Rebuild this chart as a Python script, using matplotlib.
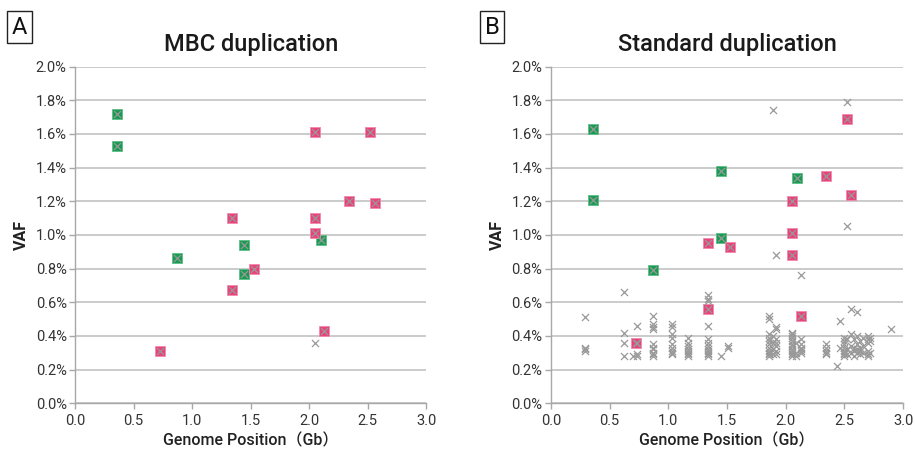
import matplotlib.pyplot as plt
from matplotlib.ticker import PercentFormatter, MultipleLocator

plt.rcParams['font.family'] = ['Roboto', 'Noto Sans CJK JP', 'DejaVu Sans']

# colours
green = '#1a9a52'
pink = '#e8437a'
cross_gray = '#999999'
grid_gray = '#bdbdbd'
text_dark = '#333333'

# ---- panel A: MBC duplication (VAF in %) ----
mbc_green_x = [0.355, 0.355, 0.87, 1.44, 1.44, 2.10]
mbc_green_y = [1.72, 1.53, 0.86, 0.94, 0.77, 0.97]
mbc_pink_x = [2.05, 2.52, 2.34, 2.56, 1.34, 2.05, 2.05, 1.53, 1.34, 2.13, 0.725]
mbc_pink_y = [1.61, 1.61, 1.20, 1.19, 1.10, 1.10, 1.01, 0.80, 0.67, 0.43, 0.31]
mbc_gray_x = [2.05]
mbc_gray_y = [0.36]

# ---- panel B: standard duplication ----
std_green_x = [0.357, 0.357, 1.446, 2.10, 1.446, 0.868]
std_green_y = [1.63, 1.21, 1.38, 1.34, 0.98, 0.79]
std_pink_x = [2.52, 2.34, 2.56, 2.05, 2.05, 1.34, 1.53, 2.05, 1.34, 2.13, 0.725]
std_pink_y = [1.69, 1.35, 1.24, 1.20, 1.01, 0.95, 0.93, 0.88, 0.56, 0.52, 0.36]

std_gray_x = ([0.29] * 4 + [0.62] * 4 + [0.70] + [0.73] * 4 + [0.87] * 10 +
              [1.03] * 9 + [1.17] * 8 + [1.34] * 12 + [1.45] + [1.51] * 2 +
              [1.86] * 11 + [1.89] * 5 + [1.92] * 8 + [2.05] * 12 + [2.09] * 3 +
              [2.13] * 7 + [2.34] * 5 + [2.44] + [2.46] * 2 + [2.50] * 8 +
              [2.52] * 5 + [2.56] * 4 + [2.58] * 4 + [2.61] * 5 + [2.63] * 4 +
              [2.66] * 3 + [2.70] * 6 + [2.72] * 3 + [2.90])
std_gray_y = ([0.515, 0.33, 0.32, 0.31] +
              [0.66, 0.42, 0.36, 0.28] +
              [0.28] +
              [0.46, 0.36, 0.29, 0.28] +
              [0.52, 0.47, 0.45, 0.44, 0.35, 0.33, 0.32, 0.30, 0.29, 0.28] +
              [0.47, 0.45, 0.41, 0.39, 0.35, 0.33, 0.31, 0.30, 0.29] +
              [0.39, 0.36, 0.34, 0.32, 0.31, 0.30, 0.29, 0.28] +
              [0.64, 0.62, 0.61, 0.46, 0.38, 0.36, 0.34, 0.32, 0.31, 0.30, 0.29, 0.28] +
              [0.28] +
              [0.34, 0.33] +
              [0.52, 0.50, 0.41, 0.39, 0.37, 0.35, 0.33, 0.31, 0.30, 0.29, 0.28] +
              [1.74, 0.40, 0.36, 0.32, 0.29] +
              [0.88, 0.45, 0.44, 0.38, 0.36, 0.34, 0.31, 0.29] +
              [0.42, 0.41, 0.40, 0.39, 0.37, 0.35, 0.34, 0.32, 0.31, 0.30, 0.29, 0.28] +
              [0.36, 0.30, 0.28] +
              [0.76, 0.38, 0.35, 0.33, 0.32, 0.31, 0.30] +
              [0.35, 0.33, 0.31, 0.30, 0.29] +
              [0.22] +
              [0.49, 0.33] +
              [0.39, 0.37, 0.35, 0.33, 0.31, 0.30, 0.29, 0.28] +
              [1.79, 1.05, 0.38, 0.32, 0.29] +
              [0.56, 0.41, 0.34, 0.30] +
              [0.38, 0.33, 0.31, 0.28] +
              [0.54, 0.40, 0.35, 0.32, 0.30] +
              [0.37, 0.33, 0.31, 0.29] +
              [0.39, 0.34, 0.30] +
              [0.40, 0.38, 0.36, 0.31, 0.29, 0.28] +
              [0.39, 0.37, 0.30] +
              [0.44])

xticks = [0.0, 0.5, 1.0, 1.5, 2.0, 2.5, 3.0]


def draw_panel(ax, title, gx, gy, px, py, cx, cy):
    ax.set_xlim(0, 3.0)
    ax.set_ylim(0, 2.0)
    ax.set_xticks(xticks)
    ax.set_xticklabels(['%.1f' % t for t in xticks])
    ax.yaxis.set_major_locator(MultipleLocator(0.2))
    ax.yaxis.set_major_formatter(PercentFormatter(xmax=100, decimals=1))
    ax.grid(axis='y', color=grid_gray, linewidth=1.1)
    ax.set_axisbelow(True)
    for s in ['top', 'right']:
        ax.spines[s].set_visible(False)
    for s in ['left', 'bottom']:
        ax.spines[s].set_color('#a8a8a8')
        ax.spines[s].set_linewidth(1.0)
    ax.tick_params(axis='both', direction='out', length=4, width=1,
                   color='#a8a8a8', labelsize=10.5, labelcolor=text_dark)
    ax.tick_params(axis='y', pad=2)

    # coloured squares, then the gray crosses that sit over every point
    ax.scatter(gx, gy, marker='s', s=62, color=green, edgecolor='#5cbf86',
               linewidth=0.6, zorder=3)
    ax.scatter(px, py, marker='s', s=62, color=pink, edgecolor='#f28aac',
               linewidth=0.6, zorder=3)
    ax.scatter(list(gx) + list(px) + list(cx), list(gy) + list(py) + list(cy),
               marker='x', s=26, color=cross_gray, linewidth=0.9, zorder=4)

    ax.set_title(title, fontsize=17, fontweight='medium', color='#1a1a1a', pad=11)
    ax.set_ylabel('VAF', fontsize=11.5, fontweight='bold', color='#222222', labelpad=5)
    ax.set_xlabel('Genome Position\uff08Gb\uff09', fontsize=11.5, fontweight='medium',
                  color='#222222', labelpad=4)


fig = plt.figure(figsize=(9.15, 4.5), dpi=100)
ax1 = fig.add_axes([0.082, 0.104, 0.384, 0.748])
ax2 = fig.add_axes([0.602, 0.104, 0.385, 0.748])

draw_panel(ax1, 'MBC duplication', mbc_green_x, mbc_green_y,
           mbc_pink_x, mbc_pink_y, mbc_gray_x, mbc_gray_y)
draw_panel(ax2, 'Standard duplication', std_green_x, std_green_y,
           std_pink_x, std_pink_y, std_gray_x, std_gray_y)

# panel letters in boxes
for xpos, letter in [(0.0213, 'A'), (0.5377, 'B')]:
    fig.text(xpos, 0.94, letter, fontsize=17, color='#111111', ha='center', va='center',
             bbox=dict(boxstyle='square,pad=0.2', facecolor='white',
                       edgecolor='#222222', linewidth=1.0))

fig.savefig('out.png', dpi=100)
